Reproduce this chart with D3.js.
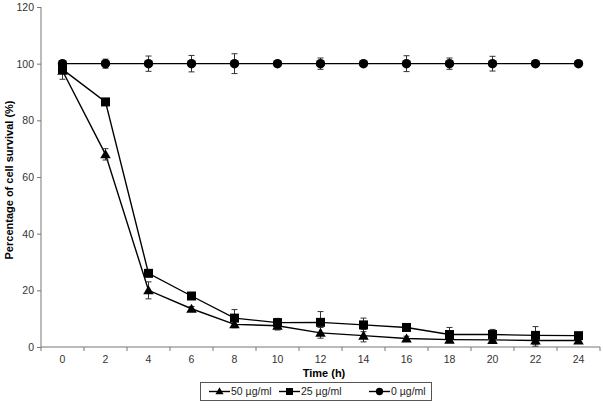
<!DOCTYPE html>
<html>
<head>
<meta charset="utf-8">
<script src="https://cdn.jsdelivr.net/npm/d3@7"></script>
<style>
  body { margin: 0; background: #fff; }
  svg { display: block; font-family: "Liberation Sans", Arial, sans-serif; }
</style>
</head>
<body>
<svg id="chart" width="603" height="411"></svg>
<script>
const times = ["0","2","4","6","8","10","12","14","16","18","20","22","24"];
const yTicks = [0, 20, 40, 60, 80, 100, 120];
const seriesNames = ["50 µg/ml", "25 µg/ml", "0 µg/ml"];
const markerTypes = ["triangle", "square", "circle"];
const values50 = [97.5, 68, 20, 13.5, 8, 7.5, 5, 4, 3, 2.6, 2.5, 2.3, 2.3];
const err50    = [3, 2, 3, 0.8, 1.2, 1.5, 1.9, 2.2, 0.8, 1, 1, 2, 1];
const values25 = [98, 86.5, 26, 18, 10.2, 8.6, 8.7, 7.8, 6.9, 4.4, 4.4, 4.1, 4];
const err25    = [1, 0.5, 1, 1, 3, 1.5, 3.8, 2.4, 0.8, 2.5, 1.8, 3.1, 1];
const values0  = [100, 100, 100, 100, 100, 100, 100, 100, 100, 100, 100, 100, 100];
const err0     = [1, 1.6, 2.7, 2.9, 3.5, 0, 2, 0, 2.8, 2, 2.6, 0, 0];
const xTitle = "Time (h)";
const yTitle = "Percentage of cell survival (%)";

(function () {
const svg = d3.select("#chart");
const pLeft = 41, pRight = 600, pTop = 7, pBottom = 347;

const x = d3.scaleBand().domain(times).range([pLeft, pRight]).padding(0);
const y = d3.scaleLinear().domain([0, 120]).range([pBottom, pTop]);
const cx = t => x(t) + x.bandwidth() / 2;

// Y axis
const yAxis = svg.append("g").attr("transform", `translate(${pLeft},0)`)
  .call(d3.axisLeft(y).tickValues(yTicks).tickSize(4).tickPadding(3));
yAxis.select(".domain").attr("stroke", "#777").attr("d", `M0,${pTop}V${pBottom}`);
yAxis.selectAll(".tick line").attr("stroke", "#777");
yAxis.selectAll(".tick text").attr("font-size", 10.5).attr("fill", "#333")
  .attr("font-family", "Liberation Sans, Arial, sans-serif");

// X axis (category ticks between bands)
const xg = svg.append("g");
xg.append("line").attr("x1", pLeft).attr("x2", pRight).attr("y1", pBottom).attr("y2", pBottom)
  .attr("stroke", "#777");
const boundaries = times.map(t => x(t)).concat([x(times[times.length - 1]) + x.bandwidth()]);
xg.selectAll("line.tk").data(boundaries).enter().append("line").attr("class", "tk")
  .attr("x1", d => d).attr("x2", d => d).attr("y1", pBottom).attr("y2", pBottom + 4)
  .attr("stroke", "#777");
const xAxis = svg.append("g").attr("transform", `translate(0,${pBottom})`)
  .call(d3.axisBottom(x).tickSize(0).tickPadding(9));
xAxis.select(".domain").remove();
xAxis.selectAll(".tick text").attr("font-size", 10.5).attr("fill", "#333")
  .attr("font-family", "Liberation Sans, Arial, sans-serif");

// Titles
svg.append("text").attr("x", 324).attr("y", 377).attr("text-anchor", "middle")
  .attr("font-size", 11).attr("font-weight", "bold").text(xTitle);
svg.append("text").attr("transform", `translate(13,180) rotate(-90)`)
  .attr("text-anchor", "middle").attr("font-size", 11).attr("font-weight", "bold").text(yTitle);

const series = [
  { name: seriesNames[0], vals: values50, errs: err50, m: markerTypes[0] },
  { name: seriesNames[1], vals: values25, errs: err25, m: markerTypes[1] },
  { name: seriesNames[2], vals: values0, errs: err0, m: markerTypes[2] }
];

const symbolFor = m => m === "triangle" ? d3.symbolTriangle : (m === "square" ? d3.symbolSquare : d3.symbolCircle);
const sizeFor = m => m === "triangle" ? 48 : (m === "square" ? 81 : 70);

const line = d3.line().x((d, i) => cx(times[i])).y(d => y(d));

series.forEach(s => {
  svg.append("path").attr("d", line(s.vals)).attr("fill", "none")
    .attr("stroke", "#000").attr("stroke-width", 1.4);
});

series.forEach(s => {
  const g = svg.append("g");
  s.vals.forEach((v, i) => {
    const e = s.errs[i];
    if (e <= 0) return;
    const px = cx(times[i]);
    g.append("path")
      .attr("d", `M${px},${y(v + e)}V${y(v - e)}M${px - 3},${y(v + e)}H${px + 3}M${px - 3},${y(v - e)}H${px + 3}`)
      .attr("stroke", "#333").attr("stroke-width", 1).attr("fill", "none");
  });
});

series.forEach(s => {
  svg.append("g").selectAll("path").data(s.vals).enter().append("path")
    .attr("d", d3.symbol().type(symbolFor(s.m)).size(sizeFor(s.m)))
    .attr("transform", (d, i) => `translate(${cx(times[i])},${y(d) + (s.m === "triangle" ? 1 : 0)})`)
    .attr("fill", "#000");
});

// Legend
const lg = svg.append("g");
lg.append("rect").attr("x", 200.5).attr("y", 382.5).attr("width", 231).attr("height", 18)
  .attr("fill", "#fff").attr("stroke", "#555");
const legendX = [209, 279, 369];
series.forEach((s, i) => {
  const lx = legendX[i], ly = 391.5;
  lg.append("line").attr("x1", lx).attr("x2", lx + 21).attr("y1", ly).attr("y2", ly)
    .attr("stroke", "#000").attr("stroke-width", 1.4);
  lg.append("path").attr("d", d3.symbol().type(symbolFor(s.m)).size(sizeFor(s.m) * 0.6))
    .attr("transform", `translate(${lx + 10.5},${ly + (s.m === "triangle" ? 0.5 : 0)})`).attr("fill", "#000");
  lg.append("text").attr("x", lx + 22).attr("y", ly + 3.8).attr("font-size", 10.5)
    .attr("fill", "#222").text(s.name);
});
})();
</script>
</body>
</html>
